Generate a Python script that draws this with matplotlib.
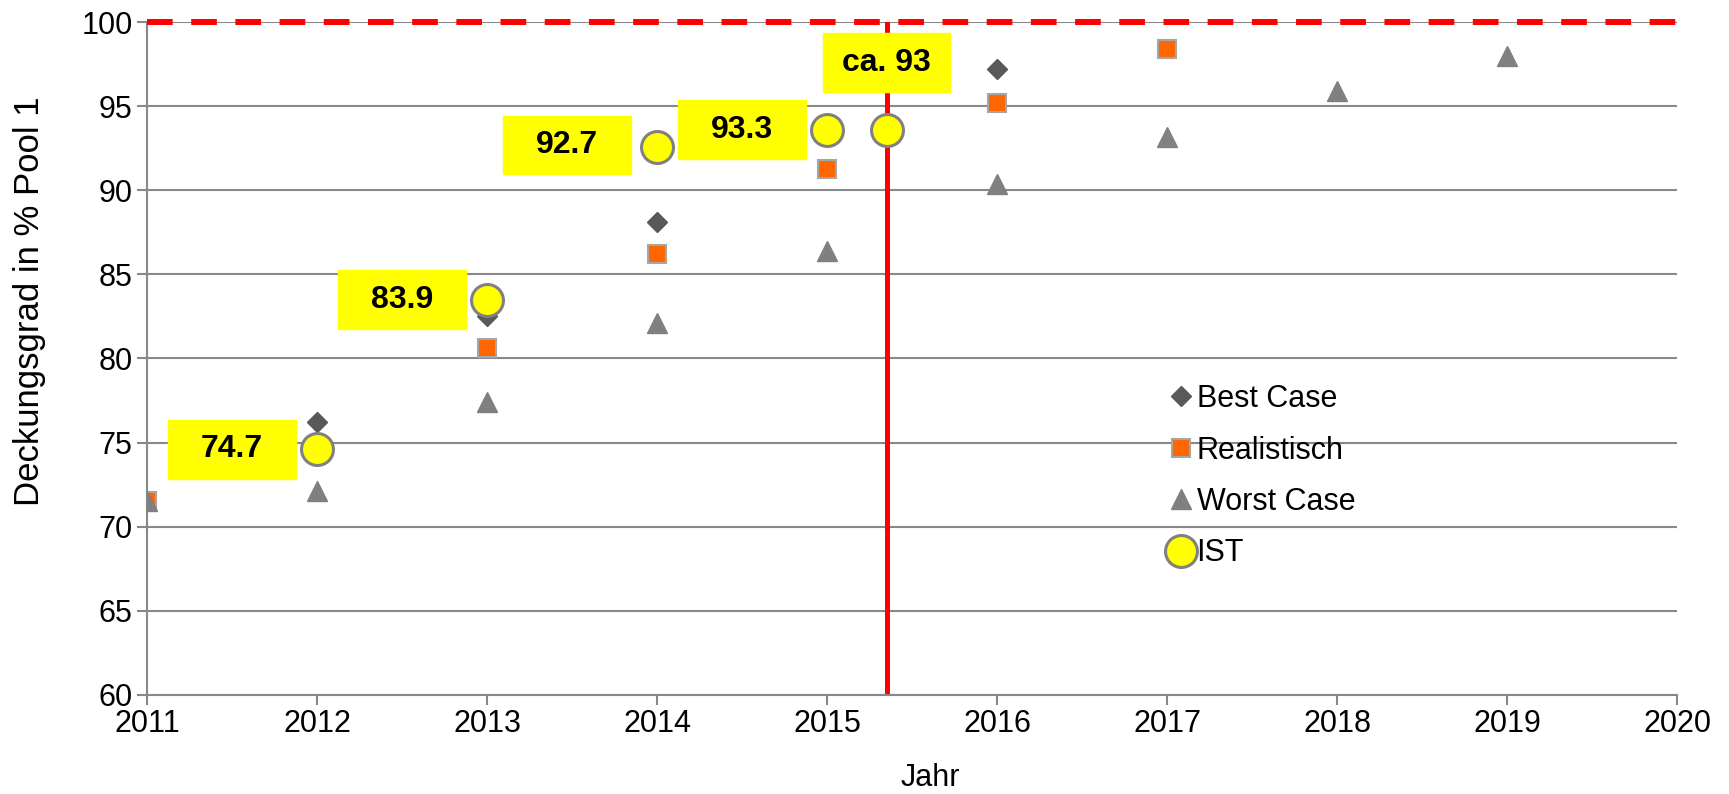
import numpy as np
import matplotlib
matplotlib.use('Agg')
from matplotlib import pyplot as plt
from matplotlib.patches import Rectangle

plt.rcParams['font.family'] = ['Liberation Sans', 'DejaVu Sans']

# data
best_years = [2012, 2013, 2014, 2015, 2016]
best_vals = [76.2, 82.5, 88.1, 93.6, 97.2]
real_years = [2011, 2012, 2013, 2014, 2015, 2016, 2017]
real_vals = [71.5, 74.7, 80.6, 86.2, 91.3, 95.2, 98.4]
worst_years = [2011, 2012, 2013, 2014, 2015, 2016, 2017, 2018, 2019]
worst_vals = [71.5, 72.1, 77.4, 82.1, 86.4, 90.4, 93.2, 95.9, 98.0]
ist_years = [2012, 2013, 2014, 2015, 2015.35]
ist_vals = [74.6, 83.5, 92.6, 93.6, 93.6]
ist_labels = ['74.7', '83.9', '92.7', '93.3', 'ca. 93']
label_x = [2011.5, 2012.5, 2013.47, 2014.5, 2015.35]
label_y = [74.6, 83.5, 92.7, 93.6, 97.6]
cutoff_year = 2015.35
target = 100

fig = plt.figure(figsize=(17.29, 7.94), dpi=100)
ax = fig.add_axes([0.085, 0.125, 0.885, 0.847])

grey = '#888888'
fs = 22
ax.set_xlim(2011, 2020)
ax.set_ylim(60, 100)
ax.set_xticks(range(2011, 2021))
ax.set_yticks(range(60, 101, 5))
ax.yaxis.grid(True, color=grey, lw=1.5)
ax.set_axisbelow(True)
for s in ['top', 'right']:
  ax.spines[s].set_visible(False)
for s in ['left', 'bottom']:
  ax.spines[s].set_color(grey)
  ax.spines[s].set_linewidth(1.5)
ax.tick_params(axis='both', labelsize=fs, color=grey, width=1.5, length=7, direction='out')

ax.plot([cutoff_year, cutoff_year], [60, target], color='#ff0000', lw=3.6, zorder=2)
ax.plot([2011, 2020], [target, target], color='#ff0000', lw=4.3, dashes=(4.3, 3.1), zorder=3, clip_on=False)

ax.plot(best_years, best_vals, 'D', color='#595959', ms=10.5, ls='none', label='Best Case', zorder=4)
ax.plot(real_years, real_vals, 's', color='#ff6600', mec='#a6a6a6', mew=1.5, ms=13.5, ls='none', label='Realistisch', zorder=4)
ax.plot(worst_years, worst_vals, '^', color='#808080', ms=15, ls='none', label='Worst Case', zorder=4)
ax.plot(ist_years, ist_vals, 'o', color='#ffff00', mec='#808080', mew=2.2, ms=23, ls='none', label='IST', zorder=5)

w, h = 0.75, 3.5
for lx, ly, t in zip(label_x, label_y, ist_labels):
  ax.add_patch(Rectangle((lx - w / 2, ly - h / 2), w, h, color='#ffff00', zorder=6))
  ax.text(lx, ly, t, ha='center', va='center', fontsize=23, fontweight='bold', zorder=7)

ax.legend(loc='upper left', bbox_to_anchor=(0.658, 0.48), frameon=False, fontsize=fs,
          handletextpad=0.0, handlelength=1.0, labelspacing=0.7, borderaxespad=0)

ax.set_xlabel('Jahr', fontsize=fs)
ax.xaxis.set_label_coords(0.512, -0.102)
ax.set_ylabel('Deckungsgrad in % Pool 1', fontsize=25)
ax.yaxis.set_label_coords(-0.066, 0.585)

fig.savefig('out.png', dpi=100)
